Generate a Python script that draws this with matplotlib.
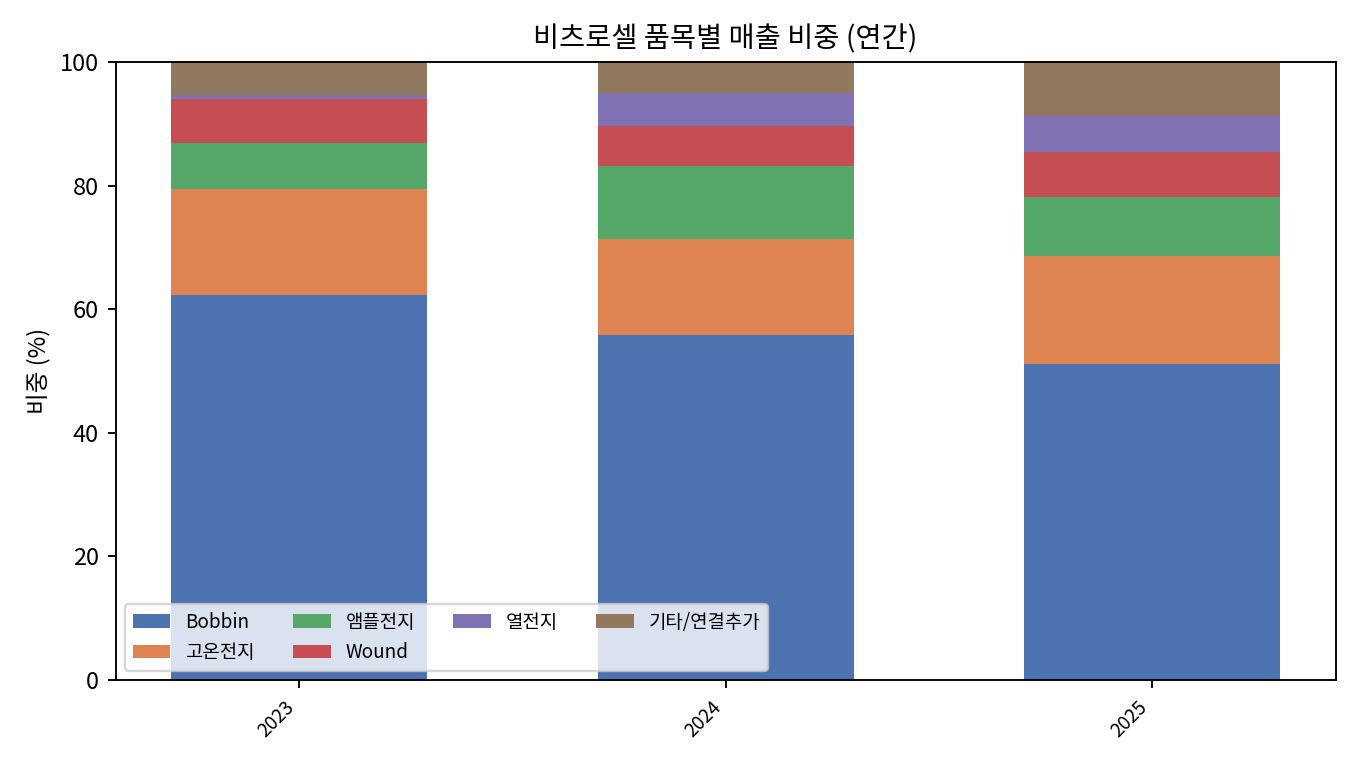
import numpy as np
import matplotlib
matplotlib.use("Agg")
import matplotlib.pyplot as plt

plt.rcParams['font.family'] = ['Noto Sans CJK KR', 'DejaVu Sans']
plt.rcParams['axes.unicode_minus'] = False

years = ["2023", "2024", "2025"]
categories = ["Bobbin", "고온전지", "앰플전지", "Wound", "열전지", "기타/연결추가"]
bobbin = [62.3, 55.8, 51.1]
goon = [17.1, 15.6, 17.5]
ampl = [7.5, 11.8, 9.6]
wound = [7.1, 6.4, 7.3]
yeol = [0.6, 5.3, 5.8]
etc = [5.4, 5.1, 8.7]
colors = ["#4C72B0", "#DD8452", "#55A868", "#C44E52", "#8172B3", "#937860"]

series = [bobbin, goon, ampl, wound, yeol, etc]

fig, ax = plt.subplots(figsize=(8, 4.5), dpi=170)
x = np.arange(len(years))
bottom = np.zeros(len(years))
for name, vals, c in zip(categories, series, colors):
    ax.bar(x, vals, width=0.6, bottom=bottom, color=c, label=name)
    bottom += np.array(vals)

ax.set_ylim(0, 100)
ax.set_xticks(x)
ax.set_xticklabels(years, rotation=45, ha="right", fontsize=8)
ax.set_ylabel("비중 (%)")
ax.set_title("비츠로셀 품목별 매출 비중 (연간)")
ax.legend(loc="lower left", ncol=4, fontsize=8)

fig.subplots_adjust(left=0.085, right=0.982, top=0.919, bottom=0.111)
fig.savefig("out.png", dpi=170)
